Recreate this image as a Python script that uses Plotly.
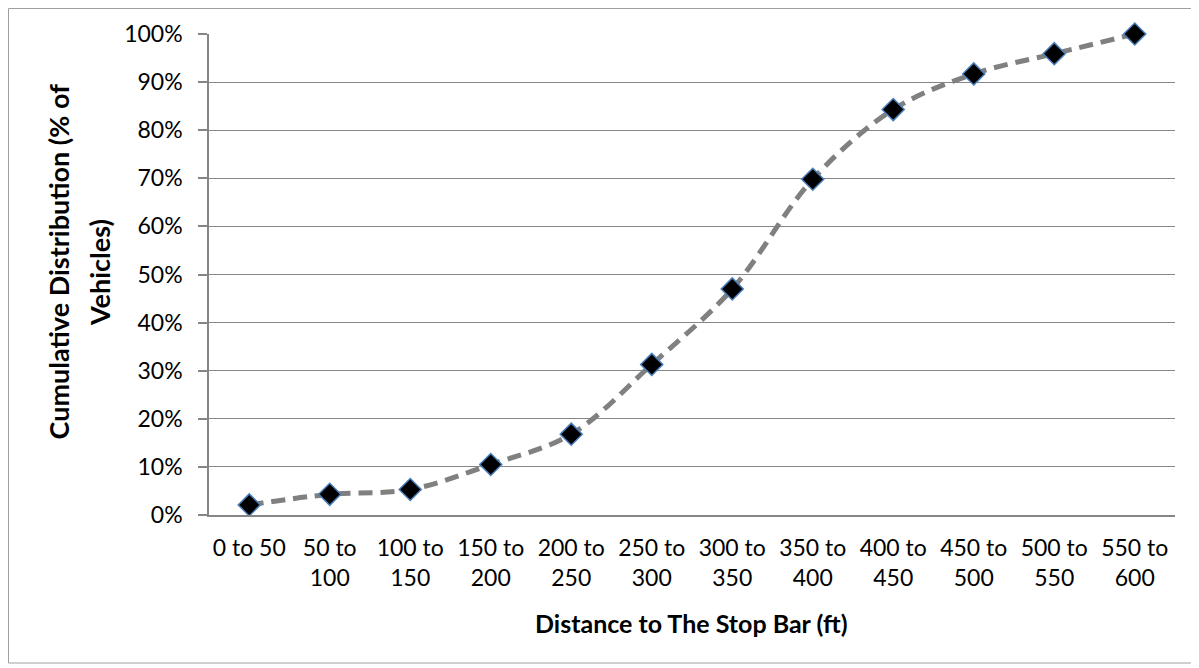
import plotly.graph_objects as go

categories = ["0 to 50", "50 to<br>100", "100 to<br>150", "150 to<br>200", "200 to<br>250",
              "250 to<br>300", "300 to<br>350", "350 to<br>400", "400 to<br>450",
              "450 to<br>500", "500 to<br>550", "550 to<br>600"]
cumulative_pct = [2.1, 4.3, 5.3, 10.5, 16.8, 31.3, 47.0, 69.8, 84.3, 91.7, 95.9, 100.0]
y_ticks = [0, 10, 20, 30, 40, 50, 60, 70, 80, 90, 100]
y_tick_labels = [f"{v}%" for v in y_ticks]
x_title = "Distance to The Stop Bar (ft)"
y_title_lines = ["Cumulative Distribution (% of", "Vehicles)"]

# page has an 8px body margin, so work in figure coords = screen - 8
W, H = 1191, 660
L, T = 201, 26
pw, ph = 966, 481
R = W - L - pw
B = H - T - ph

FONT = "Lato, 'Open Sans', sans-serif"


def px_x(x):
    return (x - L) / pw


def px_y(y):
    return (T + ph - y) / ph


fig = go.Figure()
fig.add_trace(go.Scatter(
    x=list(range(len(categories))), y=cumulative_pct,
    mode="lines+markers",
    line=dict(color="#808080", width=5, dash="14px,8px", shape="spline", smoothing=1.0),
    marker=dict(symbol="diamond", size=17, color="black",
                line=dict(color="#4a7ebb", width=1.5)),
    showlegend=False, cliponaxis=False,
))

fig.update_layout(
    width=W, height=H,
    margin=dict(l=L, r=R, t=T, b=B),
    paper_bgcolor="white", plot_bgcolor="white",
    font=dict(family=FONT, size=23, color="black"),
    xaxis=dict(
        tickmode="array", tickvals=list(range(len(categories))), ticktext=categories,
        range=[-0.5, len(categories) - 0.5],
        showgrid=False, zeroline=False,
        showline=True, linecolor="#868686", linewidth=1.5,
        ticks="", tickfont=dict(size=23), ticklabelstandoff=12,
        fixedrange=True,
    ),
    yaxis=dict(
        tickmode="array", tickvals=y_ticks, ticktext=y_tick_labels,
        range=[0, 100],
        showgrid=True, gridcolor="#868686", gridwidth=1.3,
        zeroline=False,
        showline=True, linecolor="#868686", linewidth=1.5,
        ticks="outside", ticklen=9, tickcolor="#868686", tickwidth=1.5,
        tickfont=dict(size=23), ticklabelstandoff=11,
        fixedrange=True,
    ),
)

# axis titles as annotations for precise placement
fig.add_annotation(xref="paper", yref="paper", x=px_x(683), y=px_y(615),
                   text=f"<b>{x_title}</b>", showarrow=False,
                   xanchor="center", yanchor="middle", font=dict(size=25))
fig.add_annotation(xref="paper", yref="paper", x=px_x(49.5), y=px_y(254),
                   text=f"<b>{y_title_lines[0]}</b>", showarrow=False, textangle=-90,
                   xanchor="center", yanchor="middle", font=dict(size=27))
fig.add_annotation(xref="paper", yref="paper", x=px_x(91), y=px_y(265),
                   text=f"<b>{y_title_lines[1]}</b>", showarrow=False, textangle=-90,
                   xanchor="center", yanchor="middle", font=dict(size=27))

# outer chart border
fig.add_shape(type="rect", xref="paper", yref="paper",
              x0=px_x(0.5), x1=px_x(1185), y0=px_y(655), y1=px_y(0.5),
              line=dict(color="#a0a0a0", width=1), fillcolor="rgba(0,0,0,0)", layer="below")

fig.write_html("out.html")
